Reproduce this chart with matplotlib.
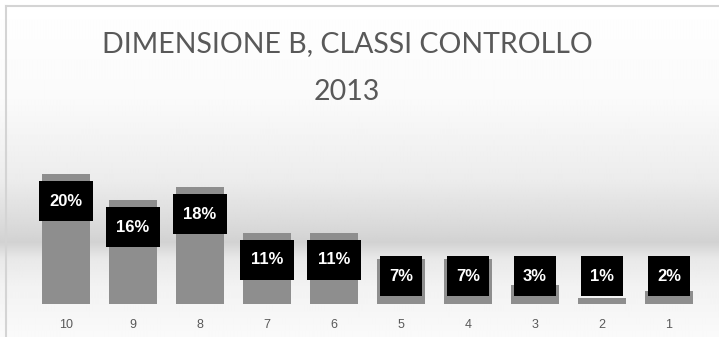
import numpy as np
import matplotlib
matplotlib.use('Agg')
import matplotlib.pyplot as plt
from matplotlib.lines import Line2D

CATEGORIES = ['10', '9', '8', '7', '6', '5', '4', '3', '2', '1']
VALUES = [20, 16, 18, 11, 11, 7, 7, 3, 1, 2]
LABELS = ['20%', '16%', '18%', '11%', '11%', '7%', '7%', '3%', '1%', '2%']
TITLE = 'DIMENSIONE B, CLASSI CONTROLLO\n2013'

W, H = 719, 337
BAR_COLOUR = '#8e8e8e'
TEXT_COLOUR = '#595959'
PX_PER_PCT = 6.5      # vertical scale of the plot area
PX_PER_CAT = 67.0     # horizontal spacing of categories

# background gradient profile: (pixel row from top, grey level)
GRAD_ROWS = [0, 100, 180, 225, 242, 258, 285, 337]
GRAD_GREY = [255, 250, 236, 218, 210, 232, 242, 250]


def draw_background(fig):
    bg = fig.add_axes([0, 0, 1, 1], zorder=-10)
    rows = np.arange(H)
    grey = np.interp(rows, GRAD_ROWS, GRAD_GREY) / 255.0
    img = np.repeat(grey[:, None], 8, axis=1)
    bg.imshow(img, cmap='gray', vmin=0, vmax=1, aspect='auto',
              extent=[0, 1, 0, 1], interpolation='bilinear')
    bg.set_axis_off()
    # chart area frame (top and left edges are visible)
    fig.add_artist(Line2D([6 / W, 6 / W], [0, 1 - 6 / H], transform=fig.transFigure,
                          color='#d4d4d4', lw=1.5))
    fig.add_artist(Line2D([6 / W, 1], [1 - 6 / H, 1 - 6 / H], transform=fig.transFigure,
                          color='#d4d4d4', lw=1.5))


def draw_labels(ax, xs):
    #label boxes: 40px tall, width depends on number of characters
    box_h = 40 / PX_PER_PCT
    for x, v, lab in zip(xs, VALUES, LABELS):
        yc = max(v - 4.2, 4.3)
        box_w = (12 * len(lab) + 18) / PX_PER_CAT
        ax.bar(x, box_h, bottom=yc - box_h / 2, width=box_w, color='black', zorder=3)
        ax.text(x, yc, lab, ha='center', va='center', color='white',
                fontsize=12, fontweight='bold', family='Liberation Sans', zorder=4)


def main():
    fig = plt.figure(figsize=(W / 100, H / 100), dpi=100)
    draw_background(fig)

    ax = fig.add_axes([32.5 / W, 33 / H, 670 / W, 195 / H])
    ax.patch.set_alpha(0)
    xs = np.arange(len(CATEGORIES))
    ax.bar(xs, VALUES, width=0.72, color=BAR_COLOUR, zorder=2)
    draw_labels(ax, xs)

    ax.set_xlim(-0.5, len(CATEGORIES) - 0.5)
    ax.set_ylim(0, 195 / PX_PER_PCT)
    ax.set_xticks(xs)
    ax.set_xticklabels(CATEGORIES, color=TEXT_COLOUR, fontsize=9, family='Liberation Sans')
    ax.tick_params(axis='x', length=0, pad=11)
    ax.set_yticks([])
    for s in ax.spines.values():
        s.set_visible(False)

    fig.text(0.483, 0.797, TITLE, ha='center', va='center', color=TEXT_COLOUR,
             fontsize=20.5, family='Lato', linespacing=2.05)

    fig.savefig('out.png', dpi=100)


main()
